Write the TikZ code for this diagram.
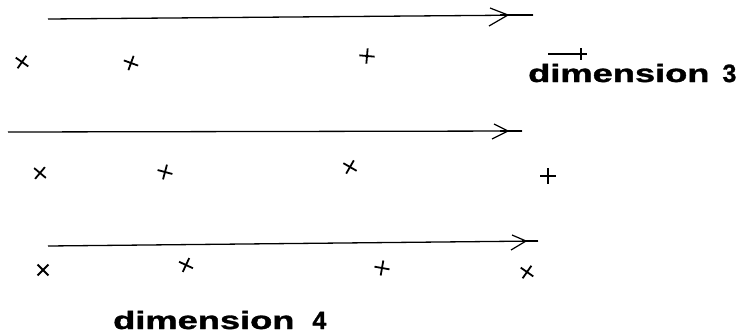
\documentclass[tikz,border=0pt]{standalone}
\usepackage{fontspec}
\setmainfont{Liberation Sans}
\newfontfamily\labelfont{Liberation Sans Bold}[FakeBold=1.2]
\usetikzlibrary{shapes.misc}
\begin{document}
\begin{tikzpicture}[x=1pt,y=-1pt,
  axisline/.style={line width=1.3pt,black},
  barb/.style={line width=1.2pt,black},
  tipthick/.style={line width=2.6pt,black},
  mk/.style={cross out,draw=black,line width=1.8pt,minimum size=9pt,inner sep=0pt},
  dimlabel/.style={inner sep=0pt,anchor=base west,font=\labelfont\fontsize{25}{28}\selectfont}]
\useasboundingbox (0,0) rectangle (745,333);
% axis 1
\coordinate (a1s) at (48,19);
\coordinate (a1e) at (533,15);
\coordinate (a1t) at (508,15);
\coordinate (a1k) at (500,15);
\coordinate (a1u) at (490,8);
\coordinate (a1d) at (489,26);
\draw[axisline] (a1s) -- (a1e);
\draw[tipthick] (a1k) -- (a1e);
\draw[barb] (a1u) -- (a1t) -- (a1d);
% axis 2
\coordinate (a2s) at (8,132);
\coordinate (a2e) at (522,131);
\coordinate (a2t) at (508,131);
\coordinate (a2k) at (500,131);
\coordinate (a2u) at (494,124);
\coordinate (a2d) at (492,139);
\draw[axisline] (a2s) -- (a2e);
\draw[tipthick] (a2k) -- (a2e);
\draw[barb] (a2u) -- (a2t) -- (a2d);
% axis 3
\coordinate (a3s) at (48,246);
\coordinate (a3e) at (538,241);
\coordinate (a3t) at (526,241);
\coordinate (a3k) at (522,241);
\coordinate (a3u) at (512,235);
\coordinate (a3d) at (511,250);
\draw[axisline] (a3s) -- (a3e);
\draw[tipthick] (a3k) -- (a3e);
\draw[barb] (a3u) -- (a3t) -- (a3d);
% markers row 1
\node[mk,rotate=10] (m11) at (22,62) {};
\node[mk,rotate=25] (m12) at (131,63) {};
\node[mk,rotate=40] (m13) at (367,56) {};
% small arrow above dimension 3
\coordinate (s1) at (548,54);
\coordinate (s2) at (587,54);
\draw[line width=1.1pt] (s1) -- (s2);
\node[mk,minimum size=6pt,rotate=45] (s3) at (581,54) {};
% markers row 2
\node[mk,rotate=5] (m21) at (40,173) {};
\node[mk,rotate=30] (m22) at (165,172) {};
\node[mk,rotate=15] (m23) at (350,167) {};
\node[mk,rotate=45] (m24) at (548,176) {};
% markers row 3
\node[mk] (m31) at (43,270) {};
\node[mk,rotate=20] (m32) at (186,265) {};
\node[mk,rotate=35] (m33) at (382,268) {};
\node[mk,rotate=10] (m34) at (527,272) {};
% labels
\node[dimlabel] (d3) at (528,82) {\scalebox{1.45}[1]{dimension}\hspace{13pt}3};
\node[dimlabel] (d4) at (113,329) {\scalebox{1.45}[1]{dimension}\hspace{18pt}4};
\end{tikzpicture}
\end{document}
